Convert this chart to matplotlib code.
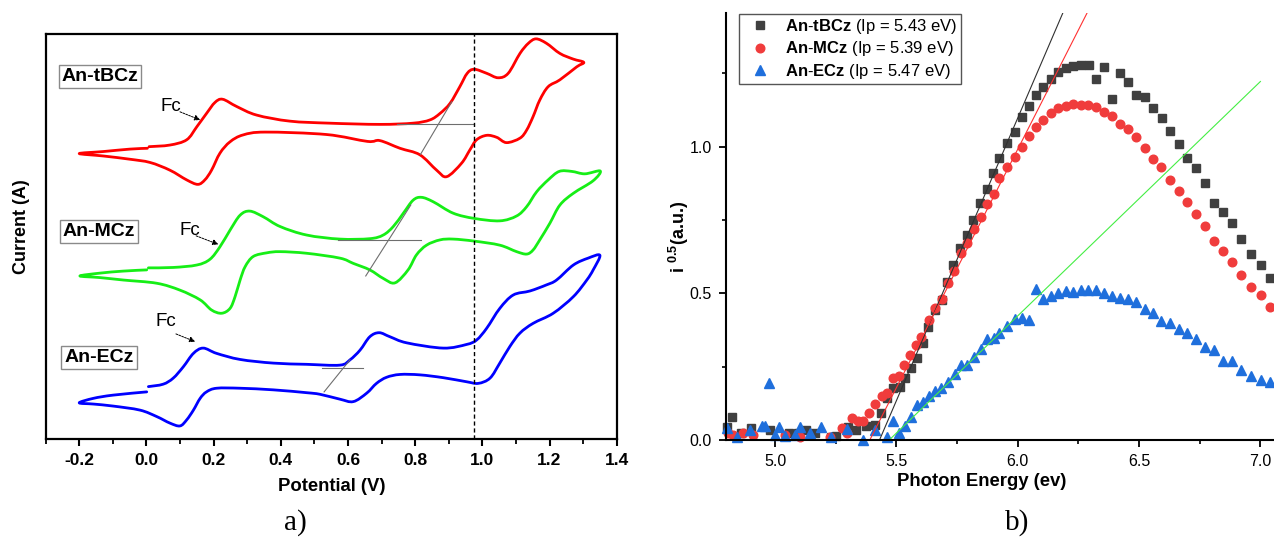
import matplotlib
matplotlib.use("Agg")
import matplotlib.pyplot as plt
from matplotlib.path import Path
from matplotlib.patches import PathPatch
from matplotlib.ticker import MultipleLocator

plt.rcParams["font.family"] = ["Liberation Sans", "DejaVu Sans"]
plt.rcParams["axes.unicode_minus"] = False
plt.rcParams["mathtext.fontset"] = "custom"
plt.rcParams["mathtext.rm"] = "Liberation Sans"
plt.rcParams["mathtext.bf"] = "Liberation Sans:bold"
plt.rcParams["mathtext.default"] = "regular"

# ---- a) cyclic voltammograms: potential (V) vs current (a.u., curves offset) ----
# each trace: forward scan from 0 V, reverse to -0.2 V, forward back to 0 V
v_tbcz = [0.008, 0.070, 0.120, 0.150, 0.179, 0.204, 0.227, 0.269, 0.328, 0.427, 0.545, 0.695,
          0.794, 0.844, 0.874, 0.904, 0.933, 0.955, 0.976, 1.013, 1.047, 1.077, 1.112, 1.137,
          1.160, 1.191, 1.231, 1.271, 1.302,
          1.281, 1.231, 1.196, 1.171, 1.151, 1.132, 1.112, 1.072, 1.043, 1.013, 0.983, 0.963,
          0.938, 0.894, 0.864, 0.814, 0.755, 0.695, 0.658, 0.536, 0.354, 0.288, 0.249, 0.219,
          0.194, 0.174, 0.153, 0.120, 0.070, 0.011, -0.049, -0.128, -0.200,
          -0.128, -0.049, 0.003]
i_tbcz = [72.2, 72.6, 73.9, 77.1, 80.4, 83.1, 83.9, 82.1, 80.0, 78.5, 78.0, 77.7,
          78.0, 78.8, 80.4, 82.9, 87.0, 90.3, 91.3, 90.3, 89.2, 90.3, 95.2, 97.7,
          98.8, 97.7, 95.2, 93.8, 93.0,
          91.9, 88.7, 87.0, 83.7, 79.6, 76.3, 74.3, 73.2, 74.5, 75.0, 73.9, 71.4,
          68.1, 64.8, 66.4, 70.2, 71.8, 73.7, 73.5, 75.2, 75.8, 75.1, 73.4, 70.6,
          66.4, 64.0, 62.9, 64.0, 66.4, 68.3, 69.1, 69.9, 70.5,
          71.0, 71.6, 71.8]

v_mcz = [0.006, 0.080, 0.150, 0.189, 0.219, 0.249, 0.279, 0.308, 0.348, 0.398, 0.477, 0.576,
         0.665, 0.705, 0.735, 0.765, 0.794, 0.819, 0.854, 0.913, 0.976, 1.052, 1.102, 1.132,
         1.162, 1.196, 1.229, 1.266, 1.305, 1.351,
         1.330, 1.271, 1.231, 1.201, 1.171, 1.151, 1.132, 1.102, 1.052, 0.976, 0.913, 0.874,
         0.834, 0.804, 0.779, 0.740, 0.705, 0.665, 0.616, 0.576, 0.477, 0.398, 0.358, 0.318,
         0.294, 0.279, 0.264, 0.249, 0.224, 0.194, 0.160, 0.100, 0.031, -0.069, -0.138, -0.198,
         -0.138, -0.069, 0.001]
i_mcz = [42.3, 42.4, 43.0, 44.4, 47.5, 51.6, 55.3, 56.3, 54.9, 52.5, 50.4, 49.4,
         49.5, 50.4, 52.5, 55.8, 59.0, 59.7, 58.6, 55.8, 54.5, 53.9, 55.1, 57.4,
         61.1, 64.0, 66.1, 66.1, 65.5, 66.2,
         63.8, 60.7, 57.8, 53.3, 49.2, 46.7, 45.7, 46.3, 47.9, 48.9, 49.4, 49.2,
         47.9, 45.5, 41.8, 38.6, 39.7, 41.8, 43.4, 44.7, 45.9, 46.3, 46.0, 45.1,
         42.6, 39.3, 35.2, 32.3, 31.1, 31.9, 34.4, 36.8, 38.5, 39.3, 39.9, 40.3,
         41.0, 41.5, 41.8]

v_ecz = [0.006, 0.050, 0.080, 0.110, 0.140, 0.169, 0.209, 0.279, 0.378, 0.477, 0.576, 0.606,
         0.636, 0.665, 0.693, 0.725, 0.775, 0.884, 0.953, 0.983, 1.013, 1.052, 1.092, 1.142,
         1.191, 1.221, 1.271, 1.315, 1.350,
         1.330, 1.311, 1.271, 1.211, 1.151, 1.112, 1.082, 1.052, 1.023, 0.988, 0.953, 0.884,
         0.814, 0.755, 0.715, 0.685, 0.656, 0.616, 0.576, 0.517, 0.477, 0.378, 0.279, 0.209,
         0.179, 0.160, 0.140, 0.120, 0.100, 0.070, 0.031, -0.019, -0.099, -0.158, -0.200,
         -0.158, -0.099, 0.001]
i_ecz = [13.0, 13.6, 15.1, 17.9, 21.2, 22.5, 21.2, 19.7, 18.8, 18.5, 18.3, 19.6,
         22.0, 25.3, 26.3, 25.3, 23.8, 22.5, 23.4, 24.5, 27.4, 32.3, 35.6, 36.6,
         38.1, 39.3, 43.0, 44.7, 45.4,
         41.8, 39.3, 35.2, 31.1, 28.6, 26.2, 22.9, 18.8, 15.1, 13.8, 14.2, 15.2,
         15.9, 16.0, 15.3, 13.8, 11.4, 9.3, 9.9, 11.1, 11.5, 12.2, 12.6, 12.6,
         11.7, 10.1, 7.2, 4.8, 3.3, 4.0, 5.6, 7.2, 8.2, 8.7, 9.0,
         10.1, 10.9, 11.7]

# onset construction: baseline and tangent segments (V, I)
onset_lines = [
    ([0.745, 0.976], [77.8, 77.8]), ([0.816, 0.909], [70.3, 83.3]),
    ([0.571, 0.817], [49.1, 49.1]), ([0.653, 0.787], [40.3, 57.8]),
    ([0.524, 0.646], [17.7, 17.7]), ([0.529, 0.606], [11.7, 19.6]),
]
ref_potential = 0.975

# ---- b) photoemission yield: photon energy (eV) vs sqrt(i) ----
e_tbcz = [4.802, 4.820, 4.861, 4.899, 4.978, 5.058, 5.092, 5.127, 5.164, 5.232, 5.250, 5.301,
          5.335, 5.374, 5.411, 5.436, 5.462, 5.486, 5.514, 5.535, 5.558, 5.583, 5.608, 5.631,
          5.658, 5.686, 5.709, 5.734, 5.761, 5.789, 5.816, 5.844, 5.871, 5.899, 5.922, 5.956,
          5.987, 6.016, 6.045, 6.073, 6.103, 6.135, 6.165, 6.197, 6.228, 6.259, 6.293, 6.322,
          6.355, 6.387, 6.421, 6.454, 6.488, 6.523, 6.557, 6.593, 6.627, 6.663, 6.698, 6.734,
          6.770, 6.807, 6.844, 6.884, 6.922, 6.960, 7.001, 7.039]
y_tbcz = [0.043, 0.080, 0.025, 0.040, 0.034, 0.025, 0.023, 0.034, 0.023, 0.011, 0.014, 0.045,
          0.034, 0.048, 0.051, 0.093, 0.142, 0.176, 0.180, 0.210, 0.244, 0.279, 0.330, 0.386,
          0.443, 0.477, 0.540, 0.597, 0.654, 0.699, 0.750, 0.807, 0.855, 0.911, 0.960, 1.012,
          1.051, 1.100, 1.139, 1.176, 1.205, 1.231, 1.256, 1.267, 1.275, 1.279, 1.279, 1.230,
          1.271, 1.164, 1.250, 1.222, 1.176, 1.168, 1.131, 1.097, 1.054, 1.009, 0.960, 0.929,
          0.877, 0.809, 0.777, 0.739, 0.684, 0.634, 0.597, 0.553]

e_mcz = [4.806, 4.827, 4.868, 4.909, 5.040, 5.102, 5.225, 5.274, 5.294, 5.315, 5.342, 5.363,
         5.388, 5.411, 5.439, 5.462, 5.484, 5.510, 5.532, 5.555, 5.580, 5.603, 5.635, 5.658,
         5.686, 5.713, 5.738, 5.764, 5.791, 5.819, 5.847, 5.874, 5.901, 5.923, 5.956, 5.987,
         6.016, 6.045, 6.075, 6.105, 6.135, 6.167, 6.197, 6.228, 6.259, 6.290, 6.323, 6.355,
         6.388, 6.421, 6.454, 6.488, 6.523, 6.557, 6.591, 6.627, 6.663, 6.698, 6.734, 6.770,
         6.807, 6.844, 6.884, 6.921, 6.960, 7.001, 7.039]
y_mcz = [0.023, 0.017, 0.023, 0.017, 0.017, 0.011, 0.011, 0.040, 0.023, 0.074, 0.066, 0.066,
         0.091, 0.123, 0.150, 0.161, 0.210, 0.218, 0.256, 0.290, 0.324, 0.352, 0.409, 0.449,
         0.480, 0.536, 0.577, 0.636, 0.671, 0.718, 0.759, 0.805, 0.839, 0.892, 0.932, 0.964,
         1.000, 1.036, 1.068, 1.091, 1.114, 1.131, 1.139, 1.144, 1.142, 1.141, 1.134, 1.119,
         1.106, 1.076, 1.059, 1.032, 0.994, 0.958, 0.932, 0.886, 0.850, 0.811, 0.769, 0.730,
         0.680, 0.645, 0.607, 0.563, 0.521, 0.494, 0.455]

e_ecz = [4.802, 4.841, 4.896, 4.944, 4.958, 4.975, 4.999, 5.016, 5.040, 5.081, 5.102, 5.143,
         5.187, 5.232, 5.294, 5.363, 5.411, 5.462, 5.484, 5.511, 5.535, 5.558, 5.583, 5.608,
         5.635, 5.658, 5.682, 5.713, 5.741, 5.764, 5.791, 5.819, 5.847, 5.871, 5.901, 5.923,
         5.956, 5.987, 6.016, 6.046, 6.075, 6.105, 6.135, 6.167, 6.197, 6.228, 6.259, 6.290,
         6.323, 6.355, 6.388, 6.421, 6.454, 6.488, 6.523, 6.557, 6.591, 6.627, 6.663, 6.698,
         6.734, 6.770, 6.807, 6.844, 6.884, 6.922, 6.960, 7.001, 7.039]
y_ecz = [0.040, 0.011, 0.034, 0.048, 0.048, 0.193, 0.017, 0.045, 0.014, 0.017, 0.043, 0.023,
         0.045, 0.011, 0.036, 0.000, 0.034, 0.011, 0.066, 0.025, 0.048, 0.080, 0.119, 0.131,
         0.150, 0.168, 0.176, 0.199, 0.225, 0.256, 0.256, 0.282, 0.309, 0.343, 0.347, 0.366,
         0.389, 0.411, 0.415, 0.409, 0.514, 0.480, 0.491, 0.500, 0.508, 0.506, 0.511, 0.511,
         0.511, 0.500, 0.492, 0.485, 0.480, 0.469, 0.446, 0.432, 0.407, 0.398, 0.377, 0.366,
         0.343, 0.316, 0.307, 0.270, 0.270, 0.239, 0.218, 0.205, 0.199]

names = ["An-tBCz", "An-MCz", "An-ECz"]
ip_values = [5.43, 5.39, 5.47]
fit_slopes = [1.927, 1.626, 0.799]
fit_ends = [6.25, 6.35, 7.0]

cv_colors = ["#ff0000", "#16ee16", "#0000ff"]
pys_colors = ["#404040", "#f03c3c", "#1f6fdc"]
fit_colors = ["#303030", "#ff3030", "#44ee44"]


def smooth_trace(ax, xs, ys, **kw):
    """Draw a curve through the given points as joined cubic Bezier pieces."""
    pts = list(zip(xs, ys))
    n = len(pts)
    verts, codes = [pts[0]], [Path.MOVETO]
    for k in range(n - 1):
        p0, p1 = pts[max(k - 1, 0)], pts[k]
        p2, p3 = pts[k + 1], pts[min(k + 2, n - 1)]
        c1 = (p1[0] + (p2[0] - p0[0]) / 6, p1[1] + (p2[1] - p0[1]) / 6)
        c2 = (p2[0] - (p3[0] - p1[0]) / 6, p2[1] - (p3[1] - p1[1]) / 6)
        verts += [c1, c2, p2]
        codes += [Path.CURVE4] * 3
    ax.add_patch(PathPatch(Path(verts, codes), fill=False, **kw))


W, H = 1274, 539
fig = plt.figure(figsize=(W / 100, H / 100), dpi=100)

# ---------------- panel a ----------------
ax1 = fig.add_axes([45.6 / W, (H - 439.3) / H, 571.1 / W, 405.3 / H])
for v, i, c in zip([v_tbcz, v_mcz, v_ecz], [i_tbcz, i_mcz, i_ecz], cv_colors):
    smooth_trace(ax1, v, i, edgecolor=c, lw=2.0, joinstyle="round", capstyle="round")
for xs, ys in onset_lines:
    ax1.plot(xs, ys, color="#6e6e6e", lw=0.8)
ax1.axvline(ref_potential, color="black", lw=1.0, ls=(0, (3, 2)))

ax1.set_xlim(-0.3, 1.4)
ax1.set_ylim(0, 100)
ax1.set_yticks([])
ax1.xaxis.set_major_locator(MultipleLocator(0.2))
ax1.xaxis.set_minor_locator(MultipleLocator(0.1))
ax1.tick_params(axis="x", which="major", direction="out", length=5, width=1.5,
                labelsize=12.5, pad=5)
ax1.tick_params(axis="x", which="minor", direction="out", length=3.5, width=1.3)
for lab in ax1.get_xticklabels():
    lab.set_fontweight("bold")
for sp in ax1.spines.values():
    sp.set_linewidth(1.6)

ax1.set_xlabel("Potential (V)", fontsize=13.3, fontweight="bold", va="center")
ax1.xaxis.set_label_coords(0.501, -0.117)
ax1.set_ylabel("Current (A)", fontsize=13, fontweight="bold", va="center")
ax1.yaxis.set_label_coords(-0.043, 0.524)

box = dict(boxstyle="square,pad=0.15", fc="white", ec="#8a8a8a", lw=1.0)
for name, (x, y) in zip(names, [(-0.138, 89.6), (-0.141, 51.3), (-0.141, 20.1)]):
    ax1.text(x, y, name, fontsize=14, fontweight="bold", ha="center", va="center", bbox=box)

# ferrocene markers: text position, arrow tail, arrow head
fc_marks = [((0.043, 82.2), (0.100, 80.8), (0.160, 78.8)),
            ((0.100, 51.6), (0.148, 50.2), (0.214, 48.1)),
            ((0.027, 29.0), (0.088, 26.0), (0.145, 24.1))]
for txt, tail, head in fc_marks:
    ax1.text(txt[0], txt[1], "Fc", fontsize=13.5, ha="left", va="center")
    ax1.annotate("", xy=head, xytext=tail,
                 arrowprops=dict(arrowstyle="-|>", color="black", lw=0.7, ls=(0, (2, 1.2)),
                                 mutation_scale=8, shrinkA=0, shrinkB=0))

# ---------------- panel b ----------------
ax2 = fig.add_axes([725.7 / W, (H - 440) / H, 548.3 / W, 427.3 / H])
handles = []
for e, y, c, m, ms in zip([e_tbcz, e_mcz, e_ecz], [y_tbcz, y_mcz, y_ecz], pys_colors,
                          ["s", "o", "^"], [5.6, 6.2, 6.6]):
    h, = ax2.plot(e, y, ls="none", marker=m, ms=ms, color=c, mec=c, clip_on=False)
    handles.append(h)

for ip, k, e_end, c in zip(ip_values, fit_slopes, fit_ends, fit_colors):
    ax2.plot([ip, e_end], [0, k * (e_end - ip)], color=c, lw=0.8)

ax2.set_xlim(4.796, 7.056)
ax2.set_ylim(0, 1.457)
ax2.spines["top"].set_visible(False)
ax2.spines["right"].set_visible(False)
for sp in ("left", "bottom"):
    ax2.spines[sp].set_linewidth(1.5)
ax2.xaxis.set_major_locator(MultipleLocator(0.5))
ax2.xaxis.set_minor_locator(MultipleLocator(0.25))
ax2.yaxis.set_major_locator(MultipleLocator(0.5))
ax2.yaxis.set_minor_locator(MultipleLocator(0.25))
ax2.tick_params(which="major", direction="out", length=5, width=1.3, labelsize=11.5, pad=5)
ax2.tick_params(which="minor", direction="out", length=3, width=1.2)

ax2.set_xlabel("Photon Energy (ev)", fontsize=13.3, fontweight="bold", va="center")
ax2.xaxis.set_label_coords(0.466, -0.098)
ax2.set_ylabel("i $^{0.5}$(a.u.)", fontsize=13, fontweight="bold", va="center")
ax2.yaxis.set_label_coords(-0.085, 0.475)

labels = [r"$\mathbf{An}$-$\mathbf{tBCz}$ (Ip = %.2f eV)" % ip_values[0],
          r"$\mathbf{An}$-$\mathbf{MCz}$ (Ip = %.2f eV)" % ip_values[1],
          r"$\mathbf{An}$-$\mathbf{ECz}$ (Ip = %.2f eV)" % ip_values[2]]
leg = ax2.legend(handles, labels, loc="upper left", bbox_to_anchor=(0.0248, 0.997),
                 borderaxespad=0, fontsize=12, frameon=True, fancybox=False,
                 edgecolor="#555555", framealpha=1, borderpad=0.2, labelspacing=0.19,
                 handlelength=2.1, handletextpad=0.44)
leg.get_frame().set_linewidth(1.0)

fig.text(295 / W, 1 - 523 / H, "a)", fontsize=21, family="Liberation Serif",
         ha="center", va="center")
fig.text(1017 / W, 1 - 523 / H, "b)", fontsize=21, family="Liberation Serif",
         ha="center", va="center")

fig.savefig("out.png", dpi=100)
